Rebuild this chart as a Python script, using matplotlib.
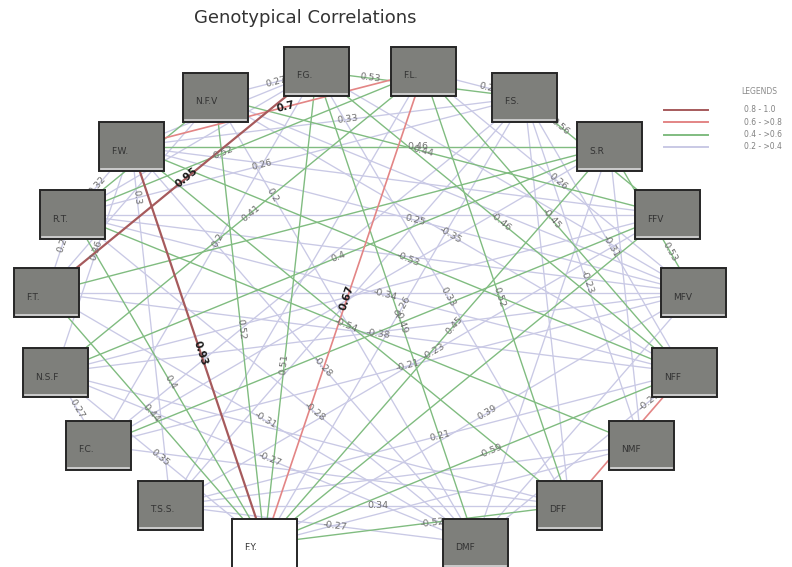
"""Genotypical correlation network: trait boxes on a ring, links coloured by |r|."""
import numpy as np
import matplotlib.pyplot as plt
from matplotlib.patches import Rectangle

# traits (box top-left corner in pixel layout, boxes are 65 x 49)
traits = ["F.G.", "F.L.", "N.F.V", "F.S.", "F.W.", "S.R", "R.T.", "FFV", "F.T.",
          "MFV", "N.S.F", "NFF", "F.C.", "NMF", "T.S.S.", "DFF", "F.Y.", "DMF"]
box_x = [284, 391, 183, 492, 99, 577, 40, 635, 14, 661, 23, 652, 66, 609, 138, 537, 232, 443]
box_y = [47, 47, 73, 73, 122, 122, 190, 190, 268, 268, 348, 348, 421, 421, 481, 481, 519, 519]
BOX_W, BOX_H = 65, 49

# correlations: from, to, r
edge_from = ["F.T.", "F.W.", "F.L.", "F.W.", "DFF", "F.G.", "F.W.", "N.S.F", "F.G.", "N.F.V",
             "N.S.F", "N.F.V", "S.R", "F.S.", "F.W.", "R.T.", "F.W.", "F.W.", "F.G.", "N.F.V",
             "R.T.", "R.T.", "F.W.", "N.F.V", "F.L.", "F.W.", "N.F.V", "F.G.", "F.L.", "F.S.",
             "F.L.", "F.W.", "F.G.", "F.L.", "F.S.", "F.Y.", "T.S.S.", "F.C.", "R.T.", "R.T.",
             "F.T.", "F.S.", "F.G.", "F.W.", "R.T.", "F.T.", "N.S.F", "T.S.S.", "F.Y.", "T.S.S.",
             "T.S.S.", "F.Y.", "F.Y.", "DMF", "R.T.", "F.T.", "N.S.F", "N.S.F",
             "F.W.", "F.Y.", "T.S.S.", "T.S.S.", "F.C.", "F.C.", "F.C.", "N.S.F", "N.S.F", "F.T.",
             "F.T.", "R.T.", "R.T.", "F.W.", "N.F.V", "F.G.", "DMF", "DMF", "DFF", "NMF",
             "F.Y.", "F.C.", "N.S.F", "T.S.S.", "R.T.", "F.T.", "F.W.", "R.T."]
edge_to = ["F.G.", "F.Y.", "F.Y.", "F.L.", "NFF", "F.S.", "S.R", "F.L.", "F.Y.", "F.Y.",
           "S.R", "FFV", "MFV", "FFV", "R.T.", "F.T.", "N.S.F", "T.S.S.", "F.C.", "DMF",
           "F.L.", "F.S.", "F.S.", "F.G.", "F.S.", "MFV", "NFF", "NFF", "NFF", "NFF",
           "MFV", "NFF", "DFF", "DFF", "NMF", "S.R", "FFV", "MFV", "NMF", "NFF",
           "NFF", "F.Y.", "DMF", "DMF", "DMF", "DMF", "DMF", "DFF", "DFF", "DMF",
           "NFF", "MFV", "NFF", "NFF", "F.Y.", "F.Y.", "F.Y.", "F.C.",
           "DFF", "FFV", "F.L.", "F.S.", "F.S.", "S.R", "FFV", "FFV", "MFV", "MFV",
           "S.R", "FFV", "MFV", "FFV", "MFV", "MFV", "MFV", "S.R", "F.S.", "S.R",
           "NMF", "DFF", "DFF", "NMF", "N.F.V", "N.F.V", "F.G.", "F.G."]
edge_r = [0.95, 0.93, 0.67, 0.70, 0.62, 0.53, 0.46, 0.41, 0.51, 0.52,
          0.40, 0.44, 0.53, 0.56, 0.32, 0.24, 0.36, 0.30, 0.20, 0.20,
          0.52, 0.26, 0.33, 0.27, 0.20, 0.25, -0.35, -0.46, -0.45, -0.31,
          0.26, -0.53, 0.33, 0.52, -0.23, 0.45, -0.23, -0.21, -0.54, -0.34,
          -0.38, -0.26, -0.49, -0.28, -0.28, -0.31, -0.27, 0.34, -0.52, -0.27,
          0.21, 0.39, -0.59, -0.27, 0.40, 0.44, 0.35, 0.27,
          0.48, 0.42, 0.29, 0.31, 0.25, 0.28, 0.47, 0.23, 0.30, 0.26,
          0.45, 0.29, 0.22, 0.27, 0.31, 0.24, 0.28, 0.25, 0.29, 0.33,
          0.26, 0.30, 0.24, 0.22, 0.42, 0.29, 0.31, 0.23]
# where along each link its value is written (None = no visible label)
label_t = [0.52, 0.52, 0.48, 0.53, None, 0.26, 0.60, 0.53, 0.62, 0.52,
           0.51, 0.46, 0.72, 0.25, 0.57, 0.35, 0.46, 0.14, 0.45, 0.22,
           0.43, 0.42, 0.55, 0.60, 0.62, 0.505, 0.50, 0.50, 0.49, 0.54,
           0.50, 0.50, 0.52, 0.52, 0.53, 0.55, 0.53, 0.52, 0.48, 0.51,
           0.52, 0.47, 0.53, 0.555, 0.60, 0.51, 0.51, 0.52, 0.55, 0.54,
           0.525, 0.52, 0.54, 0.83, 0.51, 0.48, 0.50, 0.50] + [None] * 28

legend_labels = ["0.8 - 1.0", "0.6 - >0.8", "0.4 - >0.6", "0.2 - >0.4"]
legend_colors = ["#a65a5c", "#e38585", "#80bc80", "#c9c9e5"]


def band(r):
    a = abs(r)
    if a >= 0.8:
        return 0
    if a >= 0.6:
        return 1
    if a >= 0.4:
        return 2
    return 3


centers = {n: (x + BOX_W / 2, y + BOX_H / 2) for n, x, y in zip(traits, box_x, box_y)}

fig = plt.figure(figsize=(7.92, 5.67), dpi=100)
ax = fig.add_axes([0, 0, 1, 1])
ax.set_xlim(0, 792)
ax.set_ylim(567, 0)
ax.axis("off")

widths = [1.6, 1.2, 1.0, 0.95]
for a, b, r, t in zip(edge_from, edge_to, edge_r, label_t):
    k = band(r)
    (x1, y1), (x2, y2) = centers[a], centers[b]
    ax.plot([x1, x2], [y1, y2], color=legend_colors[k], lw=widths[k],
            zorder=5 - k, solid_capstyle="butt")
    if t is None:
        continue
    ang = -np.degrees(np.arctan2(y2 - y1, x2 - x1))
    if ang > 90:
        ang -= 180
    elif ang < -90:
        ang += 180
    strong = k <= 1
    ax.text(x1 + t * (x2 - x1), y1 + t * (y2 - y1), f"{r:g}",
            rotation=ang, rotation_mode="anchor", ha="center", va="center",
            fontsize=7.5 if strong else 6.8,
            fontweight="bold" if strong else "normal",
            color="#1a1a1a" if strong else "#707070", zorder=6)

for n, x, y in zip(traits, box_x, box_y):
    white = n == "F.Y."
    ax.add_patch(Rectangle((x, y), BOX_W, BOX_H, facecolor="white" if white else "#7e7f7b",
                           edgecolor="#262626", lw=1.4, zorder=10))
    if not white:
        ax.plot([x + 2, x + BOX_W - 2], [y + BOX_H - 2.5, y + BOX_H - 2.5],
                color="#d9d9d9", lw=1.2, zorder=11)
    ax.text(x + 12, y + 29, n, fontsize=6.5, color="#333333", ha="left", va="center",
            zorder=12)

ax.text(305, 18, "Genotypical Correlations", fontsize=13, color="#333333",
        ha="center", va="center")

# legend
ax.text(741, 92, "LEGENDS", fontsize=5.5, color="#8a8a8a", ha="left", va="center")
for i, (lab, col) in enumerate(zip(legend_labels, legend_colors)):
    yy = 110 + 12.3 * i
    ax.plot([664, 708], [yy, yy], color=col, lw=1.4)
    ax.text(744, yy, lab, fontsize=5.5, color="#808080", ha="left", va="center")

fig.savefig("out.png", dpi=100)
